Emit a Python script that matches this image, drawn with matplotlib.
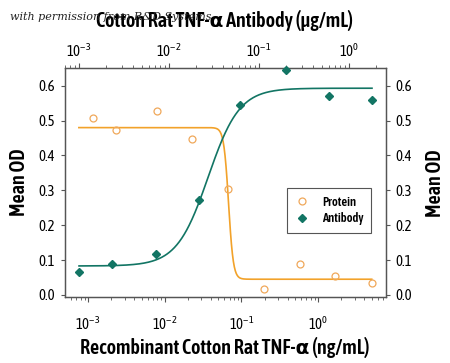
import numpy as np
import matplotlib
matplotlib.use("Agg")
import matplotlib.pyplot as plt
from matplotlib.lines import Line2D
import matplotlib.ticker as mticker

plt.rcParams['font.family'] = ['Asap Condensed', 'DejaVu Sans']
plt.rcParams['mathtext.fontset'] = 'custom'
plt.rcParams['mathtext.rm'] = 'Asap Condensed'
plt.rcParams['mathtext.default'] = 'regular'

# Data
protein_x = [0.00115, 0.0023, 0.0079, 0.0229, 0.0668, 0.195, 0.575, 1.68, 5.0]   # ng/mL
protein_y = [0.507, 0.474, 0.528, 0.446, 0.303, 0.017, 0.088, 0.053, 0.035]
antibody_x = [0.001, 0.0023, 0.0072, 0.0217, 0.062, 0.201, 0.594, 1.79]        # ug/mL
antibody_y = [0.067, 0.088, 0.117, 0.271, 0.544, 0.645, 0.572, 0.560]

# 4PL fit parameters
prot_top, prot_bot, prot_ec50, prot_hill = 0.48, 0.045, 0.068, 14
ab_bot, ab_top, ab_ec50, ab_hill = 0.083, 0.593, 0.0272, 2.5
prot_range = (0.00076, 5.0)
ab_range = (0.001, 1.8)

orange_line = '#F2A22A'
orange_mk = '#F0A85A'
teal = '#127564'

fig = plt.figure(figsize=(4.5, 3.63), dpi=100)
ax = fig.add_axes([65/450, 1-297/363, 321/450, 229/363])
ax.set_xscale('log')
ax.set_xlim(10**-3.30, 10**0.885)
ax.set_ylim(-0.006, 0.651)

xs = np.logspace(np.log10(prot_range[0]), np.log10(prot_range[1]), 600)
ys = prot_bot + (prot_top - prot_bot) / (1 + (xs / prot_ec50) ** prot_hill)
ax.plot(xs, ys, color=orange_line, lw=1.2, zorder=2)
ax.plot(protein_x, protein_y, 'o', mfc='none', mec=orange_mk, mew=0.9, ms=5, zorder=3)

ax2 = ax.twiny()
ax2.set_xscale('log')
ax2.set_xlim(10**-3.156, 10**0.411)
xa = np.logspace(np.log10(ab_range[0]), np.log10(ab_range[1]), 600)
ya = ab_bot + (ab_top - ab_bot) / (1 + (ab_ec50 / xa) ** ab_hill)
ax2.plot(xa, ya, color=teal, lw=1.2, zorder=2)
ax2.plot(antibody_x, antibody_y, 'D', color=teal, ms=4.5, zorder=3, clip_on=False)

for a in (ax, ax2):
    for s in a.spines.values():
        s.set_color('#555555')
        s.set_linewidth(0.9)

ax.set_yticks([0.0, 0.1, 0.2, 0.3, 0.4, 0.5, 0.6])
ax.yaxis.set_major_formatter(mticker.FormatStrFormatter('%.1f'))
ax.tick_params(axis='y', which='both', direction='out', length=3, width=0.8,
               color='#555555', labelsize=10.5, right=True, labelright=True, pad=4)
ax.tick_params(axis='x', which='major', direction='out', length=3.5, width=0.8,
               color='#555555', labelsize=10.5, pad=10)
ax.tick_params(axis='x', which='minor', direction='out', length=2, width=0.6, color='#555555')
ax2.tick_params(axis='x', which='major', direction='out', length=3.5, width=0.8,
                color='#555555', labelsize=10.5, pad=2.5)
ax2.tick_params(axis='x', which='minor', direction='out', length=2, width=0.6, color='#555555')

ax.set_xticks([1e-3, 1e-2, 1e-1, 1e0])
ax2.set_xticks([1e-3, 1e-2, 1e-1, 1e0])

lab = dict(fontsize=14.5, fontweight='semibold')
fig.text(225/450, 1-354/363, 'Recombinant Cotton Rat TNF-α (ng/mL)', ha='center',
         va='baseline', **lab)
fig.text(225/450, 1-27/363, 'Cotton Rat TNF-α Antibody (μg/mL)', ha='center',
         va='baseline', **lab)
ax.set_ylabel('Mean OD', labelpad=7, **lab)
fig.text(435/450, 1-183/363, 'Mean OD', rotation=90, ha='center', va='center', **lab)

handles = [Line2D([], [], ls='none', marker='o', mfc='none', mec=orange_mk, ms=5, mew=0.9),
           Line2D([], [], ls='none', marker='D', color=teal, ms=4.5)]
leg = ax.legend(handles, ['Protein', 'Antibody'], loc='upper left',
                bbox_to_anchor=((287-65)/321, (297-188)/229), fancybox=False,
                edgecolor='#555555', prop={'size': 9, 'weight': 'semibold'},
                handlelength=1.2, handletextpad=1.0, borderpad=0.6, labelspacing=0.3,
                framealpha=1, borderaxespad=0)
leg.get_frame().set_linewidth(0.8)

fig.text(10/450, 1-17/363, 'with permission from R&D Systems', fontsize=8,
         style='italic', family='DejaVu Serif', color='#222222', va='center', zorder=10)

fig.savefig('out.png', dpi=100)
